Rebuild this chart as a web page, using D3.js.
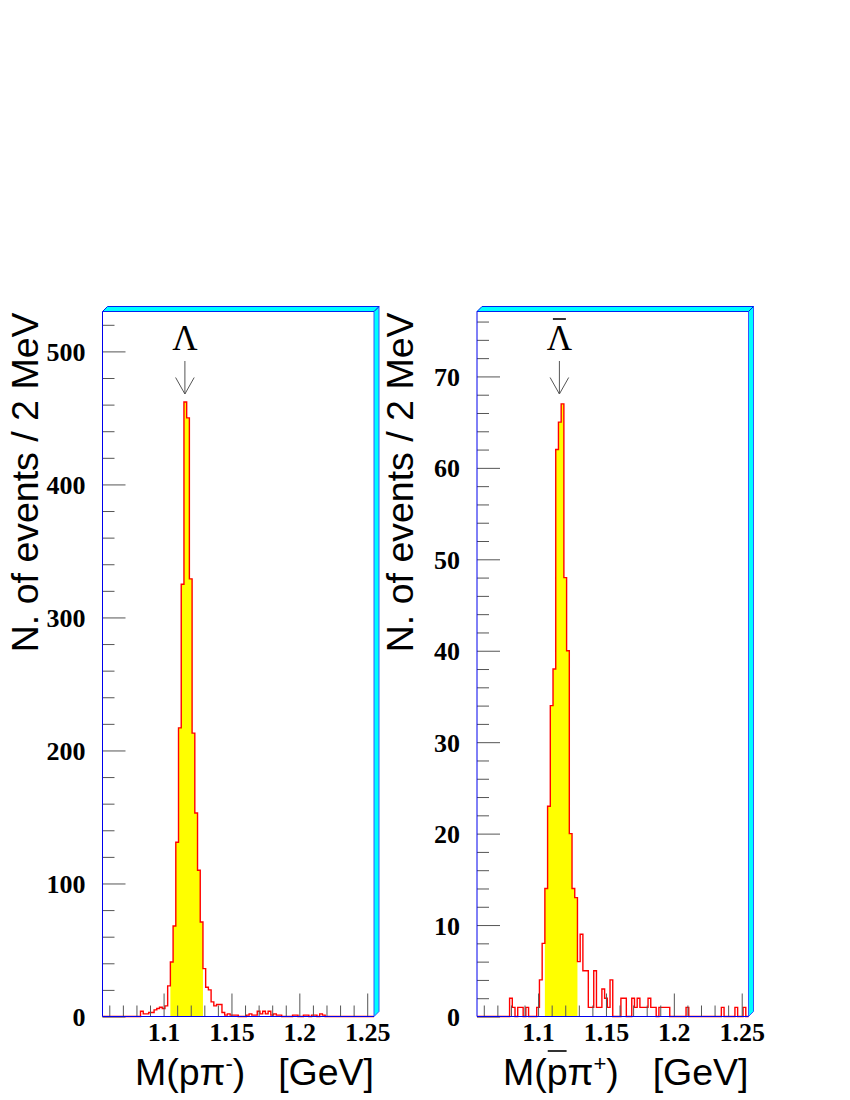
<!DOCTYPE html>
<html><head><meta charset="utf-8">
<script src="https://cdn.jsdelivr.net/npm/d3@7"></script>
<style>body{margin:0;background:#fff}</style>
</head><body>
<svg id="c" width="850" height="1100" xmlns="http://www.w3.org/2000/svg"></svg>
<script>
// ---- data ----
const massMin = 1.055, massMax = 1.255, binWidth = 0.002;
const lambdaMass = 1.1157;
const lambdaCounts = [
  0,0,0,0,0,0,0,0,0,0,
  0,0,0,0,4,2,2,3,3,5,
  6,7,6,8,23,41,68,131,217,325,
  462,450,329,213,153,110,71,36,22,20,
  11,8,9,9,3,1,2,1,1,1,
  0,0,0,1,2,1,1,4,2,4,
  2,4,1,2,1,1,0,0,0,0,
  1,1,0,0,1,1,0,1,1,0,
  2,1,0,0,0,0,0,0,0,0,
  0,0,0,0,0,0,0,0,0,0
];
const antiLambdaCounts = [
  0,0,0,0,0,0,0,0,0,0,
  0,0,2,1,0,1,1,0,1,0,
  0,0,1,4,8,14,23,34,38,62,
  65,67,48,40,20,14,13,6,9,5,
  5,1,1,5,1,1,3,2,1,4,
  0,0,0,2,2,0,0,2,1,2,
  1,1,1,2,1,1,0,1,1,1,
  1,0,0,0,0,0,0,1,0,0,
  0,0,0,0,0,0,0,0,0,0,
  1,0,0,0,0,1,0,0,1,0
];
const selectedBins = [25, 36];           // yellow-filled bin range
const xMajorTicks = [1.1, 1.15, 1.2, 1.25];
const xTickLabels = ["1.1", "1.15", "1.2", "1.25"];
const xMinorTicks = [1.06,1.07,1.08,1.09,1.11,1.12,1.13,1.14,1.16,1.17,1.18,1.19,1.21,1.22,1.23,1.24];
const leftYMajor = [0,100,200,300,400,500];
const rightYMajor = [0,10,20,30,40,50,60,70];
const yTitle = "N. of events / 2 MeV";

// ---- drawing ----
const svg = d3.select("#c");
const serif = "'Liberation Serif','Times New Roman',serif";
const sans = "'Liberation Sans',Arial,Helvetica,sans-serif";
const labelSize = 26;

function panel(cfg) {
  const { x0, x1, y0, y1, counts, ymax, yMajor, yMinorStep, anti } = cfg;
  const x = d3.scaleLinear().domain([massMin, massMax]).range([x0, x1]);
  const y = d3.scaleLinear().domain([0, ymax]).range([y1, y0]);
  const g = svg.append("g");
  const line = d3.line();

  // yellow fill
  const fp = [[x(massMin + selectedBins[0]*binWidth), y(0)]];
  for (let i = selectedBins[0]; i <= selectedBins[1]; i++) {
    const lo = massMin + i*binWidth, hi = lo + binWidth;
    fp.push([x(lo), y(counts[i])], [x(hi), y(counts[i])]);
  }
  fp.push([x(massMin + (selectedBins[1]+1)*binWidth), y(0)]);
  g.append("path").attr("d", line(fp) + "Z").attr("fill", "#ffff00");

  // histogram outline
  const pts = [[x(massMin), y(0)]];
  counts.forEach((c, i) => {
    const lo = massMin + i*binWidth, hi = lo + binWidth;
    pts.push([x(lo), y(c)], [x(hi), y(c)]);
  });
  pts.push([x(massMax), y(0)]);
  g.append("path").attr("d", line(pts)).attr("fill", "none")
    .attr("stroke", "#ff0000").attr("stroke-width", 1.4);

  // x axis (ticks inside, labels below)
  const gxm = g.append("g").attr("transform", `translate(0,${y1})`)
    .call(d3.axisBottom(x).tickValues(xMinorTicks).tickSize(-11).tickSizeOuter(0).tickFormat(""));
  const gx = g.append("g").attr("transform", `translate(0,${y1})`)
    .call(d3.axisBottom(x).tickValues(xMajorTicks).tickSize(-23).tickSizeOuter(0)
      .tickPadding(6).tickFormat((d, i) => xTickLabels[i]));
  [gxm, gx].forEach(s => { s.select(".domain").remove(); s.selectAll(".tick line").attr("stroke", "#555"); });
  gx.selectAll(".tick text").attr("font-family", serif).attr("font-weight", "bold")
    .attr("font-size", labelSize).attr("fill", "#000");

  // y axis
  const yMinor = d3.range(0, ymax + 0.001, yMinorStep).filter(v => !yMajor.includes(v));
  const gym = g.append("g").attr("transform", `translate(${x0},0)`)
    .call(d3.axisLeft(y).tickValues(yMinor).tickSize(-12).tickSizeOuter(0).tickFormat(""));
  const gy = g.append("g").attr("transform", `translate(${x0},0)`)
    .call(d3.axisLeft(y).tickValues(yMajor).tickSize(-23).tickSizeOuter(0).tickPadding(17));
  [gym, gy].forEach(s => { s.select(".domain").remove(); s.selectAll(".tick line").attr("stroke", "#555"); });
  gy.selectAll(".tick text").attr("font-family", serif).attr("font-weight", "bold")
    .attr("font-size", labelSize).attr("fill", "#000").attr("dy", "0.35em");

  // frame with 3D top/right faces
  const d = 5;
  g.append("path").attr("d", `M${x1},${y0}L${x1+d},${y0-d}L${x1+d},${y1-d}L${x1},${y1}Z`)
    .attr("fill", "#00ffff").attr("stroke", "#3355ff").attr("stroke-width", 1);
  g.append("path").attr("d", `M${x0},${y0}L${x0+d},${y0-d}L${x1+d},${y0-d}L${x1},${y0}Z`)
    .attr("fill", "#00ffff").attr("stroke", "#0022ee").attr("stroke-width", 1);
  g.append("line").attr("x1", x0).attr("y1", y0).attr("x2", x0).attr("y2", y1)
    .attr("stroke", "#0000ee").attr("stroke-width", 1);
  g.append("line").attr("x1", x0).attr("y1", y1).attr("x2", x1).attr("y2", y1)
    .attr("stroke", "#0000ee").attr("stroke-width", 1);

  // Lambda label and arrow
  const ax = x(lambdaMass);
  g.append("text").attr("x", ax).attr("y", y0 + 38.5).attr("text-anchor", "middle")
    .attr("font-family", serif).attr("font-size", 35).attr("fill", "#000").text("Λ");
  if (anti) {
    g.append("line").attr("x1", ax - 6.5).attr("x2", ax + 6.5)
      .attr("y1", y0 + 7.5).attr("y2", y0 + 7.5).attr("stroke", "#000").attr("stroke-width", 1.6);
  }
  g.append("path")
    .attr("d", `M${ax},${y0+49.5}L${ax},${y0+82.5}M${ax-9.3},${y0+66}L${ax},${y0+82.5}L${ax+9.3},${y0+66}`)
    .attr("fill", "none").attr("stroke", "#555").attr("stroke-width", 1);

  // y title
  g.append("text").attr("transform", `translate(${x0 - 64.5},${y0 + 1}) rotate(-90)`)
    .attr("text-anchor", "end").attr("font-family", sans).attr("font-size", 37.5)
    .attr("fill", "#000").text(yTitle);

  // x title
  const t = g.append("text").attr("x", cfg.titleX).attr("y", 1085)
    .attr("font-family", sans).attr("font-size", 37.5).attr("fill", "#000");
  t.append("tspan").text("M(pπ");
  t.append("tspan").attr("font-size", 22).attr("dy", -14).text(anti ? "+" : "-");
  t.append("tspan").attr("dy", 14).text(")");
  if (anti) {
    const n = t.node();
    const s = n.getStartPositionOfChar(2), e = n.getEndPositionOfChar(2);
    g.append("line").attr("x1", s.x + 1).attr("x2", e.x - 1).attr("y1", 1051).attr("y2", 1051)
      .attr("stroke", "#000").attr("stroke-width", 1.6);
  }
  g.append("text").attr("x", x1).attr("y", 1085).attr("text-anchor", "end")
    .attr("font-family", sans).attr("font-size", 37.5).attr("fill", "#000").text("[GeV]");
}

panel({ x0: 102.5, x1: 374, y0: 311.5, y1: 1016.5, counts: lambdaCounts, ymax: 530,
        yMajor: leftYMajor, yMinorStep: 20, anti: false, titleX: 135 });
panel({ x0: 477, x1: 748.5, y0: 311.5, y1: 1016.5, counts: antiLambdaCounts, ymax: 77.1,
        yMajor: rightYMajor, yMinorStep: 2, anti: true, titleX: 503 });
</script>
</body></html>
